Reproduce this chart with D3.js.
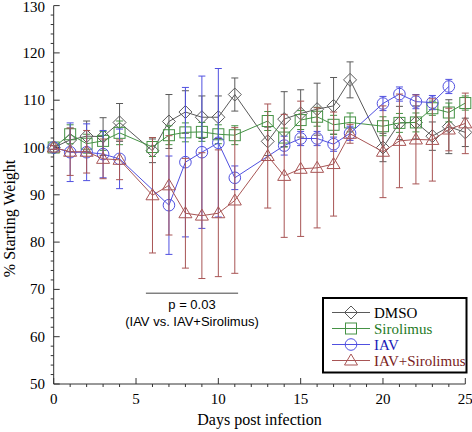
<!DOCTYPE html>
<html><head><meta charset="utf-8">
<script src="https://cdnjs.cloudflare.com/ajax/libs/d3/7.8.5/d3.min.js"></script>
<style>body{margin:0;background:#fff}svg{display:block}</style>
</head><body>
<script>
const seriesNames = ["DMSO", "Sirolimus", "IAV", "IAV+Sirolimus"];
const daysAll = [0,1,2,3,4,6,7,8,9,10,11,13,14,15,16,17,18,20,21,22,23,24,25];
const daysIAV = [0,1,2,3,4,7,8,9,10,11,14,15,16,17,18,20,21,22,23,24];
const dmsoValues = [100,101.6,102.4,102.3,105.3,99.3,105.5,107.5,106.4,106.4,111.2,101.3,106.0,107.2,108.1,108.8,114.3,100.0,105.2,105.3,102.4,104.4,103.2];
const dmsoErrors = [0.4,2.5,3.2,4.0,4.0,2.5,5.7,4.5,4.5,4.5,3.5,3.0,5.8,5.0,5.5,6.0,3.8,3.0,3.5,3.5,3.0,5.7,3.0];
const sirValues = [100,102.8,100.8,101.4,103.1,100.1,102.6,103.2,103.3,102.8,102.6,105.6,102.1,105.8,106.5,104.8,105.3,104.5,105.2,105.3,108.3,107.4,109.4];
const sirErrors = [0.4,2.0,2.0,2.0,2.5,2.0,2.0,2.0,2.0,2.0,2.0,2.0,2.0,2.0,2.0,2.0,2.0,2.0,2.0,2.0,1.5,2.0,1.5];
const iavValues = [100,99.0,99.0,98.6,97.6,87.8,96.9,99.0,101.0,93.6,100.4,101.9,101.9,100.7,103.0,109.3,111.3,109.7,109.5,112.9];
const iavErrors = [0.4,6.2,6.0,5.0,6.3,10.4,15.8,16.1,15.7,2.5,2.0,1.5,1.5,1.5,1.5,1.5,1.5,1.5,1.5,1.5];
const iavSirValues = [100,99.1,99.1,97.6,97.4,89.9,92.0,86.1,85.6,86.1,88.8,98.2,94.0,95.5,95.7,96.5,102.9,99.1,101.4,101.7,101.6,103.8,105.1];
const iavSirErrors = [0.4,5.0,4.5,4.2,4.2,12.2,10.5,11.6,13.3,13.4,15.4,11.0,13.0,14.3,12.7,11.0,2.0,9.7,9.9,9.4,8.7,4.5,6.4];
const xTickValues = [0,5,10,15,20,25];
const yTickValues = [50,60,70,80,90,100,110,120,130];

const lineColors = ["#5a5a5a", "#459245", "#5050e0", "#a85555"];
const textColors = ["#000000", "#1f7a1f", "#1a1ab8", "#7a2222"];
const shapes = ["diamond", "square", "circle", "triangle"];

const series = [
  {days: daysAll, values: dmsoValues, errors: dmsoErrors},
  {days: daysAll, values: sirValues, errors: sirErrors},
  {days: daysIAV, values: iavValues, errors: iavErrors},
  {days: daysAll, values: iavSirValues, errors: iavSirErrors}
];

const W = 472, H = 432;
const svg = d3.select("body").append("svg").attr("width", W).attr("height", H);
const x = d3.scaleLinear().domain([0, 25]).range([53.7, 465.3]);
const y = d3.scaleLinear().domain([50, 130]).range([384, 5.6]);
const serif = "'Liberation Serif','Times New Roman',serif";

// axes
const ax = svg.append("g").attr("stroke", "#333").attr("fill", "none").attr("stroke-width", 1);
ax.append("line").attr("x1", x(0)).attr("x2", x(0)).attr("y1", y(50)).attr("y2", y(130));
ax.append("line").attr("x1", x(0)).attr("x2", x(25)).attr("y1", y(50)).attr("y2", y(50));
d3.range(50, 131, 2).forEach(v => {
  const major = v % 10 === 0;
  ax.append("line").attr("y1", y(v)).attr("y2", y(v))
    .attr("x1", major ? x(0) : x(0) - 3).attr("x2", major ? x(0) + 6 : x(0));
});
d3.range(0, 26, 1).forEach(v => {
  const major = v % 5 === 0;
  ax.append("line").attr("x1", x(v)).attr("x2", x(v))
    .attr("y1", major ? y(50) - 6 : y(50)).attr("y2", major ? y(50) : y(50) + 3);
});
svg.append("g").selectAll("text").data(yTickValues).join("text")
  .attr("x", 45).attr("y", d => Math.max(y(d) + 5, 12)).attr("text-anchor", "end")
  .attr("font-family", serif).attr("font-size", 15).text(d => d);
svg.append("g").selectAll("text").data(xTickValues).join("text")
  .attr("x", d => x(d)).attr("y", 404).attr("text-anchor", "middle")
  .attr("font-family", serif).attr("font-size", 15).text(d => d);
svg.append("text").attr("x", x(12.5)).attr("y", 425).attr("text-anchor", "middle")
  .attr("font-family", serif).attr("font-size", 16).text("Days post infection");
svg.append("text").attr("transform", "translate(15," + y(85) + ") rotate(-90)")
  .attr("text-anchor", "middle").attr("font-family", serif).attr("font-size", 16)
  .text("% Starting Weight");

function drawMarker(g, shape, cx, cy, color) {
  let el;
  if (shape === "diamond") {
    el = g.append("path").attr("d", `M${cx},${cy-6.5}L${cx+6.5},${cy}L${cx},${cy+6.5}L${cx-6.5},${cy}Z`);
  } else if (shape === "square") {
    el = g.append("rect").attr("x", cx-5.5).attr("y", cy-5.5).attr("width", 11).attr("height", 11);
  } else if (shape === "circle") {
    el = g.append("circle").attr("cx", cx).attr("cy", cy).attr("r", 5.8);
  } else {
    el = g.append("path").attr("d", `M${cx},${cy-6.5}L${cx+6.5},${cy+4.5}L${cx-6.5},${cy+4.5}Z`);
  }
  el.attr("fill", "none").attr("stroke", color).attr("stroke-width", 1);
}

const line = d3.line().x(d => x(d[0])).y(d => y(d[1]));
series.forEach((s, i) => {
  const g = svg.append("g");
  const pts = s.days.map((d, k) => [d, s.values[k], s.errors[k]]);
  pts.forEach(p => {
    const lo = y(p[1] - p[2]), hi = y(p[1] + p[2]);
    g.append("line").attr("x1", x(p[0])).attr("x2", x(p[0])).attr("y1", lo).attr("y2", hi)
      .attr("stroke", lineColors[i]).attr("stroke-width", 1);
    [lo, hi].forEach(yy => g.append("line").attr("x1", x(p[0]) - 3.5).attr("x2", x(p[0]) + 3.5)
      .attr("y1", yy).attr("y2", yy).attr("stroke", lineColors[i]).attr("stroke-width", 1));
  });
  g.append("path").datum(pts).attr("d", line).attr("fill", "none")
    .attr("stroke", lineColors[i]).attr("stroke-width", 1);
  pts.forEach(p => drawMarker(g, shapes[i], x(p[0]), y(p[1]), lineColors[i]));
});

// p-value annotation
svg.append("line").attr("x1", x(5.6)).attr("x2", x(11.2)).attr("y1", y(69.2)).attr("y2", y(69.2))
  .attr("stroke", "#444").attr("stroke-width", 1);
const sans = "'Liberation Sans',Arial,sans-serif";
svg.append("text").attr("x", x(8.4)).attr("y", y(69.2) + 16).attr("text-anchor", "middle")
  .attr("font-family", sans).attr("font-size", 13).text("p = 0.03");
svg.append("text").attr("x", x(8.4)).attr("y", y(69.2) + 33).attr("text-anchor", "middle")
  .attr("font-family", sans).attr("font-size", 13).text("(IAV vs. IAV+Sirolimus)");

// legend
const lg = svg.append("g");
lg.append("rect").attr("x", 323).attr("y", 298).attr("width", 143.5).attr("height", 74.5)
  .attr("fill", "#fff").attr("stroke", "#000").attr("stroke-width", 2);
seriesNames.forEach((name, i) => {
  const yy = 312.5 + i * 16;
  lg.append("line").attr("x1", 332).attr("x2", 370).attr("y1", yy).attr("y2", yy)
    .attr("stroke", lineColors[i]).attr("stroke-width", 1);
  drawMarker(lg, shapes[i], 351, yy, lineColors[i]);
  lg.append("text").attr("x", 374).attr("y", yy + 5).attr("font-family", serif)
    .attr("font-size", 15).attr("fill", textColors[i]).text(name);
});
</script>
</body></html>
